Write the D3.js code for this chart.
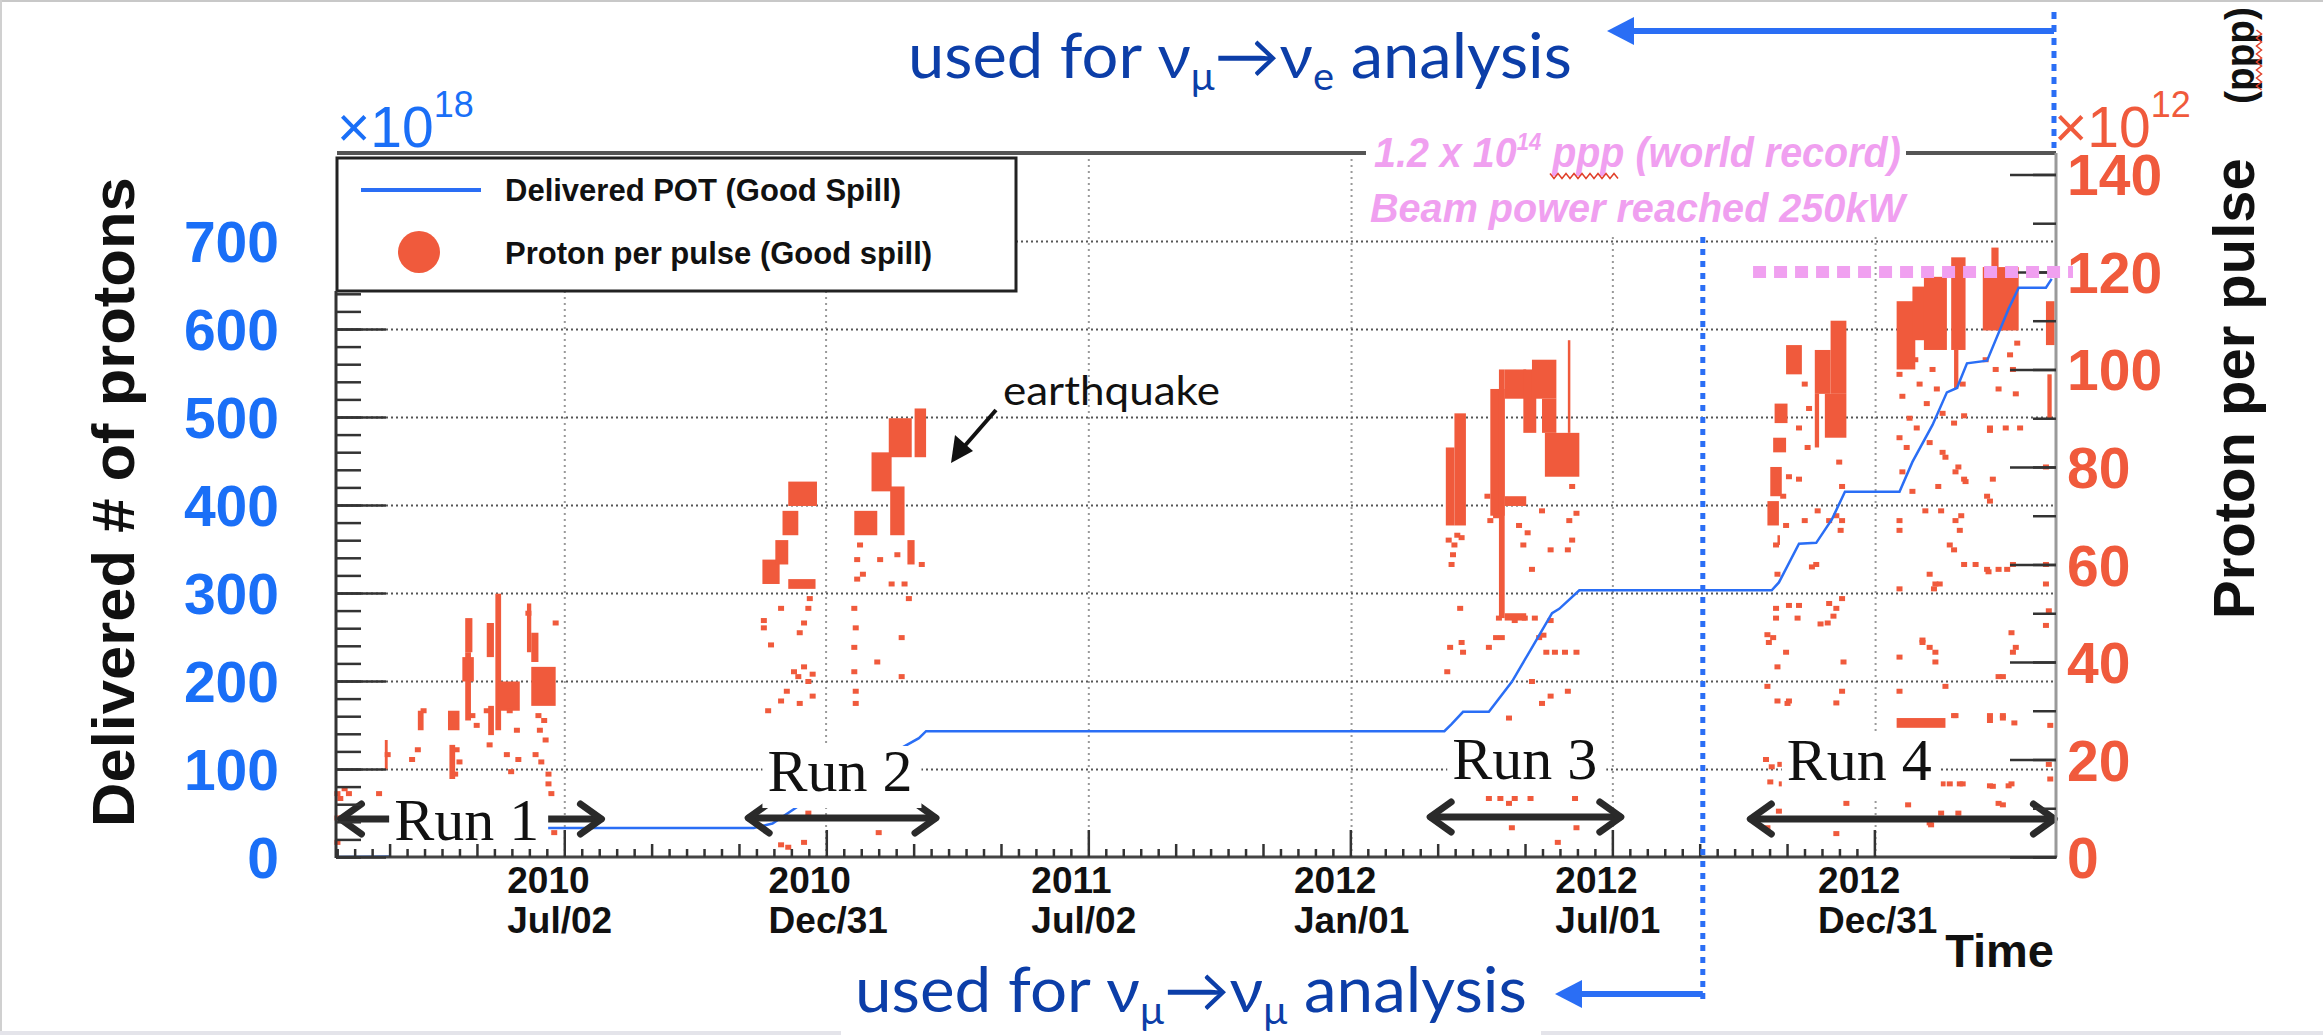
<!DOCTYPE html>
<html>
<head>
<meta charset="utf-8">
<script src="https://cdn.jsdelivr.net/npm/d3@7"></script>
<style>
  body { margin: 0; background: #fff; }
  svg { display: block; }
</style>
</head>
<body>
<script>
// time axis: labelled major ticks
var xTickDates = ['2010-07-02', '2010-12-31', '2011-07-02', '2012-01-01', '2012-07-01', '2012-12-31'];
var xTickYears = ['2010', '2010', '2011', '2012', '2012', '2012'];
var xTickDays = ['Jul/02', 'Dec/31', 'Jul/02', 'Jan/01', 'Jul/01', 'Dec/31'];

// left axis (x10^18 POT) and right axis (x10^12 ppp)
var potTicks = [0, 100, 200, 300, 400, 500, 600, 700];
var pppTicks = [0, 20, 40, 60, 80, 100, 120, 140];

// accumulated delivered POT (x10^18)
var potDates = ['2010-01-24', '2010-04-17', '2010-04-22', '2010-06-18', '2010-06-21', '2010-11-11', '2010-11-24',
    '2010-12-15', '2011-03-06', '2011-03-11', '2012-03-06', '2012-03-11', '2012-03-19', '2012-04-06',
    '2012-04-22', '2012-05-06', '2012-05-20', '2012-05-25', '2012-06-08', '2012-10-20', '2012-10-25',
    '2012-11-08', '2012-11-20', '2012-12-01', '2012-12-10', '2013-01-17', '2013-01-26', '2013-02-09',
    '2013-02-19', '2013-02-26', '2013-03-05', '2013-03-19', '2013-04-03', '2013-04-10', '2013-04-29',
    '2013-05-03'];
var potValues = [0, 1, 14, 31, 33, 33, 38, 61, 135, 143, 143, 151, 165, 165, 199, 238, 277, 282, 303, 303,
    312, 356, 357, 384, 415, 415, 449, 491, 528, 533, 561, 564, 623, 647, 647, 657];

// dense spill bands: [from, to, ppp low, ppp high]
var pppBands = [
    ['2010-02-27', '2010-03-01', 18, 24], ['2010-03-22', '2010-03-26', 26, 30], ['2010-04-12', '2010-04-20', 26, 30],
    ['2010-04-13', '2010-04-17', 16, 23], ['2010-04-24', '2010-04-29', 42, 49], ['2010-04-22', '2010-04-30', 36, 41],
    ['2010-04-24', '2010-04-28', 28, 42], ['2010-05-09', '2010-05-14', 41, 48], ['2010-05-15', '2010-05-19', 26, 54],
    ['2010-05-17', '2010-06-01', 30, 36], ['2010-05-10', '2010-05-14', 25, 31], ['2010-06-06', '2010-06-09', 42, 52],
    ['2010-06-09', '2010-06-14', 40, 46], ['2010-06-09', '2010-06-26', 31, 39],
    ['2010-11-17', '2010-11-29', 56, 61], ['2010-11-26', '2010-12-05', 60, 65], ['2010-12-01', '2010-12-12', 66, 71],
    ['2010-12-05', '2010-12-25', 72, 77], ['2010-12-05', '2010-12-24', 55, 57], ['2011-01-20', '2011-02-05', 66, 71],
    ['2011-02-01', '2011-02-15', 75, 83], ['2011-02-13', '2011-03-01', 82, 90], ['2011-03-03', '2011-03-11', 82, 92],
    ['2011-02-14', '2011-02-24', 66, 76], ['2011-02-26', '2011-03-03', 60, 65],
    ['2012-03-07', '2012-03-13', 68, 84], ['2012-03-13', '2012-03-21', 68, 91], ['2012-04-07', '2012-04-17', 70, 96],
    ['2012-04-13', '2012-04-17', 49, 100], ['2012-04-17', '2012-05-02', 94, 100], ['2012-04-30', '2012-05-09', 87, 100],
    ['2012-05-06', '2012-05-23', 94, 102], ['2012-05-13', '2012-05-23', 87, 94], ['2012-05-15', '2012-06-08', 78, 87],
    ['2012-05-31', '2012-06-01', 87, 106], ['2012-04-17', '2012-05-02', 72, 74], ['2012-04-17', '2012-05-02', 48.5, 50],
    ['2012-10-17', '2012-10-25', 68, 73], ['2012-10-19', '2012-10-27', 74, 80], ['2012-10-21', '2012-10-30', 83, 86],
    ['2012-10-22', '2012-10-31', 89, 93], ['2012-10-24', '2012-10-25', 64, 66], ['2012-10-30', '2012-11-10', 99, 105],
    ['2012-11-19', '2012-11-30', 95, 104], ['2012-11-30', '2012-12-11', 95, 110], ['2012-11-19', '2012-11-22', 84, 95],
    ['2012-11-26', '2012-12-11', 86, 95],
    ['2013-01-15', '2013-01-28', 100, 114], ['2013-01-26', '2013-02-08', 106, 117], ['2013-02-03', '2013-02-19', 104, 119],
    ['2013-02-22', '2013-03-04', 104, 123], ['2013-02-24', '2013-02-27', 96, 104], ['2013-03-16', '2013-04-10', 108, 121],
    ['2013-03-22', '2013-03-27', 121, 125], ['2013-04-29', '2013-05-05', 105, 114], ['2013-04-30', '2013-05-03', 90, 99],
    ['2013-01-15', '2013-02-18', 26.5, 28.5]
];

// single spills: [date, ppp]
var pppPoints = [
    ['2010-01-25', 13], ['2010-01-27', 12], ['2010-01-30', 14], ['2010-02-02', 13], ['2010-01-25', 8], ['2010-01-25', 3],
    ['2010-02-23', 13], ['2010-03-01', 21], ['2010-03-18', 20], ['2010-03-22', 22], ['2010-03-26', 30], ['2010-04-17', 17],
    ['2010-04-18', 22], ['2010-04-20', 19.5], ['2010-04-29', 29], ['2010-05-02', 27], ['2010-05-09', 30], ['2010-05-11', 23],
    ['2010-05-23', 21], ['2010-05-25', 30], ['2010-05-26', 17.5], ['2010-05-30', 26], ['2010-05-31', 20], ['2010-06-07', 50],
    ['2010-06-12', 21], ['2010-06-14', 29], ['2010-06-15', 26], ['2010-06-16', 19.5], ['2010-06-18', 28], ['2010-06-19', 24],
    ['2010-06-21', 17], ['2010-06-21', 15], ['2010-06-23', 13], ['2010-06-26', 48], ['2010-06-25', 5],
    ['2010-11-18', 47], ['2010-11-18', 48.5], ['2010-11-30', 51], ['2010-12-19', 51], ['2010-12-16', 48], ['2010-11-23', 43.5],
    ['2010-12-13', 46], ['2010-12-09', 38], ['2010-12-12', 37], ['2010-12-16', 39], ['2010-12-19', 36], ['2010-12-22', 37.5],
    ['2010-11-30', 32], ['2010-12-13', 31.5], ['2010-11-21', 30], ['2010-12-22', 33], ['2010-12-04', 34], ['2010-12-20', 53],
    ['2011-01-20', 51], ['2011-01-21', 47], ['2011-01-20', 43], ['2011-02-22', 45], ['2011-02-05', 40], ['2011-01-20', 38],
    ['2011-01-21', 34], ['2011-01-21', 31.5], ['2011-02-22', 37], ['2011-02-27', 53], ['2011-02-24', 56], ['2011-03-08', 60],
    ['2011-01-22', 57], ['2011-01-22', 61], ['2011-01-26', 58], ['2011-02-07', 61], ['2011-02-15', 56], ['2011-02-19', 62],
    ['2011-01-24', 64], ['2010-11-30', 2.5], ['2010-12-16', 3], ['2011-02-06', 5], ['2010-12-19', 9], ['2010-12-05', 2],
    ['2012-03-11', 60], ['2012-03-17', 51], ['2012-03-10', 43], ['2012-03-19', 42], ['2012-03-08', 38], ['2012-03-18', 44],
    ['2012-03-09', 65], ['2012-03-15', 66], ['2012-03-18', 65.5], ['2012-03-13', 64], ['2012-03-12', 62],
    ['2012-04-07', 69], ['2012-04-11', 70], ['2012-04-27', 68], ['2012-05-03', 66.5], ['2012-05-19', 63], ['2012-05-31', 63],
    ['2012-04-30', 64], ['2012-05-06', 59], ['2012-05-13', 71], ['2012-06-03', 76], ['2012-06-01', 69], ['2012-06-06', 70.5],
    ['2012-06-03', 65], ['2012-04-13', 49], ['2012-04-24', 48.5], ['2012-05-01', 49], ['2012-05-08', 49], ['2012-05-19', 48.5],
    ['2012-04-11', 45], ['2012-04-15', 45], ['2012-04-06', 43], ['2012-05-11', 45], ['2012-05-14', 45.5], ['2012-05-16', 42],
    ['2012-05-22', 42], ['2012-05-29', 42], ['2012-06-06', 42], ['2012-05-06', 36], ['2012-05-19', 33], ['2012-05-31', 34],
    ['2012-05-13', 31.5], ['2012-04-20', 28.5], ['2012-04-05', 74], ['2012-04-06', 12], ['2012-04-14', 12], ['2012-04-24', 12],
    ['2012-05-05', 12], ['2012-04-20', 11], ['2012-06-05', 12], ['2012-05-24', 3], ['2012-04-22', 6], ['2012-06-06', 6],
    ['2012-11-01', 78], ['2012-11-08', 77.5], ['2012-12-06', 81], ['2012-12-08', 76], ['2012-11-20', 60], ['2012-11-29', 69],
    ['2012-12-04', 70], ['2012-10-24', 58], ['2012-10-23', 49], ['2012-10-23', 51], ['2012-11-08', 51.6], ['2012-11-01', 51.6],
    ['2012-11-28', 48], ['2012-12-04', 51], ['2012-12-08', 53], ['2012-10-17', 45.6], ['2012-10-18', 44], ['2012-10-24', 39],
    ['2012-10-30', 42], ['2012-10-24', 32], ['2012-11-01', 32], ['2012-12-09', 40], ['2012-12-04', 31.6], ['2012-10-17', 35],
    ['2012-10-28', 74], ['2012-10-23', 64], ['2012-10-30', 68], ['2012-11-12', 69], ['2012-11-21', 71], ['2012-12-07', 67],
    ['2012-11-17', 59.5], ['2012-12-08', 69], ['2012-11-07', 49], ['2012-11-29', 52], ['2012-12-02', 49.4], ['2012-11-23', 47.8],
    ['2012-10-21', 45], ['2012-10-31', 31.5], ['2012-12-08', 34], ['2012-11-12', 97], ['2012-11-15', 92], ['2012-11-08', 88],
    ['2012-11-14', 84], ['2012-10-16', 20], ['2012-10-20', 18.5], ['2012-10-26', 19], ['2012-10-19', 15.4], ['2012-10-27', 15],
    ['2012-10-25', 9.4], ['2012-12-04', 4.8], ['2012-12-11', 11], ['2012-10-17', 6],
    ['2013-01-17', 99], ['2013-01-19', 94.5], ['2013-01-24', 90], ['2013-01-29', 88], ['2013-01-17', 86], ['2013-02-07', 85],
    ['2013-01-22', 84], ['2013-01-19', 79], ['2013-02-18', 82], ['2013-02-25', 79], ['2013-03-03', 77.5], ['2013-01-26', 75],
    ['2013-02-04', 71], ['2013-02-13', 76], ['2013-02-25', 69], ['2013-02-28', 67], ['2013-01-17', 69], ['2013-01-17', 67],
    ['2013-02-21', 64], ['2013-02-10', 55], ['2013-02-14', 56], ['2013-01-17', 55], ['2013-02-07', 58], ['2013-03-23', 77.5],
    ['2013-03-19', 74], ['2013-03-21', 88], ['2013-03-11', 60], ['2013-03-19', 59], ['2013-03-27', 59], ['2013-04-06', 60],
    ['2013-02-02', 44], ['2013-02-11', 40], ['2013-01-17', 41], ['2013-02-18', 35], ['2013-01-17', 34], ['2013-04-06', 42],
    ['2013-03-30', 37], ['2013-03-21', 29], ['2013-03-30', 29], ['2013-02-25', 29], ['2013-03-02', 15], ['2013-02-21', 15],
    ['2013-04-03', 14.6], ['2013-03-23', 14.5], ['2013-02-07', 7], ['2013-01-23', 10.7], ['2013-03-30', 10.7],
    ['2013-03-25', 100], ['2013-04-06', 100], ['2013-04-09', 105.4], ['2013-03-27', 96], ['2013-04-01', 88], ['2013-04-11', 88],
    ['2013-03-21', 87.5], ['2013-03-03', 90.5], ['2013-02-24', 89], ['2013-03-04', 77], ['2013-02-27', 80], ['2013-02-16', 83],
    ['2013-03-01', 70], ['2013-02-15', 71], ['2013-03-21', 73], ['2013-02-24', 63], ['2013-03-03', 60], ['2013-03-20', 58.5],
    ['2013-04-02', 59], ['2013-02-11', 56], ['2013-02-02', 44.5], ['2013-02-07', 43], ['2013-02-11', 42], ['2013-03-27', 37],
    ['2013-04-05', 46], ['2013-04-08', 43], ['2013-02-24', 29], ['2013-03-21', 28], ['2013-03-30', 28.5], ['2013-04-07', 27.5],
    ['2013-02-16', 15], ['2013-02-28', 15], ['2013-03-21', 14.6], ['2013-04-05', 15], ['2013-02-15', 9], ['2013-02-27', 9],
    ['2013-03-27', 11], ['2013-02-08', 6.6], ['2013-05-02', 27], ['2013-05-01', 50.5], ['2013-04-29', 56], ['2013-04-29', 60],
    ['2013-04-29', 80], ['2013-04-29', 47.5], ['2013-05-01', 19], ['2013-05-02', 16], ['2013-01-31', 97], ['2013-02-05', 93],
    ['2013-02-12', 96], ['2013-02-16', 91], ['2013-01-21', 101], ['2013-02-09', 100], ['2013-03-02', 97], ['2013-03-18', 102],
    ['2013-04-04', 103], ['2013-04-08', 95], ['2013-01-28', 102]
];

// run periods
var runNames = ['Run 1', 'Run 2', 'Run 3', 'Run 4'];
var runFrom = ['2010-01-25', '2010-11-05', '2012-02-23', '2012-10-03'];
var runTo = ['2010-07-30', '2011-03-20', '2012-07-09', '2013-05-07'];
var runLabelDates = ['2010-04-25', '2011-01-10', '2012-05-01', '2012-12-20'];

var recordPpp = 120;
var recordFrom = '2012-10-07';
var cutDate = '2012-09-02';

(function () {
    var width = 2323;
    var height = 1035;
    var red = '#f05a3c';
    var blue = '#2a6ef5';
    var navy = '#0c3ea8';
    var pink = '#f0a0f0';
    var sans = 'Liberation Sans, Arial, Helvetica, sans-serif';
    var serif = 'Liberation Serif, Times New Roman, serif';
    var gill = 'Lato, Open Sans, sans-serif';

    var parse = d3.utcParse('%Y-%m-%d');

    var svg = d3.select('body').append('svg')
        .attr('width', width)
        .attr('height', height)
        .style('background', '#fff');

    var x = d3.scaleUtc()
        .domain([parse('2010-01-24'), parse('2013-05-06')])
        .range([336, 2056]);
    var yL = d3.scaleLinear().domain([0, 800]).range([857, 153]);
    var yR = d3.scaleLinear().domain([0, 144.4]).range([857, 153]);

    var x0 = x.range()[0];
    var x1 = x.range()[1];
    var yBottom = yL.range()[0];
    var yTop = yL.range()[1];

    // squeeze a text horizontally to the width it has on the slide
    function fit(t, tx, ty, len, rot) {
        var w = t.node().getComputedTextLength();
        t.attr('transform', 'translate(' + tx + ',' + ty + ')' +
            (rot ? ' rotate(' + rot + ')' : '') + ' scale(' + (len / w) + ',1)');
        return t;
    }

    // slide edge remnants
    svg.append('rect').attr('x', 0).attr('y', 0).attr('width', width).attr('height', 2).attr('fill', '#c8c8c8');
    svg.append('rect').attr('x', 0).attr('y', 0).attr('width', 2).attr('height', height).attr('fill', '#d0d0d0');
    svg.append('rect').attr('x', 0).attr('y', 1031).attr('width', 841).attr('height', 4).attr('fill', '#e4e4ea');
    svg.append('rect').attr('x', 1541).attr('y', 1031).attr('width', 782).attr('height', 4).attr('fill', '#e4e4ea');

    // grid
    svg.append('g')
        .attr('transform', 'translate(0,' + yTop + ')')
        .call(d3.axisBottom(x).tickValues(xTickDates.map(parse)).tickSize(yBottom - yTop).tickFormat(''))
        .call(function (g) { g.select('.domain').remove(); })
        .selectAll('line')
        .attr('stroke', '#999')
        .attr('stroke-width', 2)
        .attr('stroke-dasharray', '2 4');

    svg.append('g')
        .attr('transform', 'translate(' + x0 + ',0)')
        .call(d3.axisLeft(yL).tickValues(potTicks.slice(1)).tickSize(-(x1 - x0)).tickFormat(''))
        .call(function (g) { g.select('.domain').remove(); })
        .selectAll('line')
        .attr('stroke', '#555')
        .attr('stroke-width', 2)
        .attr('stroke-dasharray', '2 3');

    // proton per pulse, dense bands
    svg.append('g')
        .selectAll('rect')
        .data(pppBands)
        .join('rect')
        .attr('x', function (d) { return x(parse(d[0])); })
        .attr('y', function (d) { return yR(d[3]); })
        .attr('width', function (d) { return Math.max(2.5, x(parse(d[1])) - x(parse(d[0]))); })
        .attr('height', function (d) { return yR(d[2]) - yR(d[3]); })
        .attr('fill', red);

    // proton per pulse, single spills
    svg.append('g')
        .selectAll('rect')
        .data(pppPoints)
        .join('rect')
        .attr('x', function (d) { return x(parse(d[0])) - 3; })
        .attr('y', function (d) { return yR(d[1]) - 2.5; })
        .attr('width', 6)
        .attr('height', 5)
        .attr('fill', red);

    // delivered POT
    var line = d3.line()
        .x(function (d) { return x(parse(d[0])); })
        .y(function (d) { return yL(d[1]); });

    svg.append('path')
        .datum(d3.zip(potDates, potValues))
        .attr('d', line)
        .attr('fill', 'none')
        .attr('stroke', blue)
        .attr('stroke-width', 2.5);

    // legend
    var legend = svg.append('g');
    legend.append('rect')
        .attr('x', 337).attr('y', 158).attr('width', 679).attr('height', 133)
        .attr('fill', '#fff').attr('stroke', '#222').attr('stroke-width', 3);
    legend.append('line')
        .attr('x1', 361).attr('x2', 481).attr('y1', 190).attr('y2', 190)
        .attr('stroke', blue).attr('stroke-width', 4);
    legend.append('circle')
        .attr('cx', 419).attr('cy', 252).attr('r', 21).attr('fill', red);
    legend.selectAll('text')
        .data(['Delivered POT (Good Spill)', 'Proton per pulse (Good spill)'])
        .join('text')
        .attr('x', 505)
        .attr('y', function (d, i) { return i ? 264 : 201; })
        .attr('font-family', sans)
        .attr('font-weight', 'bold')
        .attr('font-size', 31)
        .attr('fill', '#111')
        .text(function (d) { return d; });

    // run arrows and labels
    function chevronArrow(xa, xb, y) {
        var g = svg.append('g')
            .attr('stroke', '#2a2a2a')
            .attr('stroke-width', 7)
            .attr('fill', 'none')
            .attr('stroke-linecap', 'round')
            .attr('stroke-linejoin', 'round');
        g.append('line').attr('x1', xa + 4).attr('x2', xb - 4).attr('y1', y).attr('y2', y);
        g.append('path').attr('d', 'M' + (xa + 24) + ',' + (y - 15) + 'L' + (xa + 3) + ',' + y + 'L' + (xa + 24) + ',' + (y + 15));
        g.append('path').attr('d', 'M' + (xb - 24) + ',' + (y - 15) + 'L' + (xb - 3) + ',' + y + 'L' + (xb - 24) + ',' + (y + 15));
    }

    var runArrowY = [819, 818, 817, 819];
    var runLabelY = [840, 791, 779, 780];

    runNames.forEach(function (name, i) {
        chevronArrow(x(parse(runFrom[i])), x(parse(runTo[i])), runArrowY[i]);
        var label = svg.append('g');
        var box = label.append('rect').attr('fill', '#fff');
        var t = label.append('text')
            .attr('x', x(parse(runLabelDates[i])))
            .attr('y', runLabelY[i])
            .attr('text-anchor', 'middle')
            .attr('font-family', serif)
            .attr('font-size', 60)
            .attr('fill', '#111')
            .text(name);
        var b = t.node().getBBox();
        box.attr('x', b.x - 5).attr('y', b.y + 8).attr('width', b.width + 14).attr('height', b.height - 4);
    });

    // frame lines
    svg.append('line').attr('x1', x0 + 1).attr('x2', x1).attr('y1', yTop).attr('y2', yTop)
        .attr('stroke', '#555').attr('stroke-width', 4);
    svg.append('line').attr('x1', x1).attr('x2', x1).attr('y1', yTop).attr('y2', yBottom)
        .attr('stroke', '#9a9a9a').attr('stroke-width', 3);
    svg.append('line').attr('x1', x0).attr('x2', x0).attr('y1', 291).attr('y2', yBottom + 1)
        .attr('stroke', '#333').attr('stroke-width', 3);
    svg.append('line').attr('x1', x0).attr('x2', x1 + 1).attr('y1', yBottom).attr('y2', yBottom)
        .attr('stroke', '#444').attr('stroke-width', 3);

    // axis ticks
    function tickGroup(axis, tx, ty, color) {
        svg.append('g')
            .attr('transform', 'translate(' + tx + ',' + ty + ')')
            .call(axis)
            .call(function (g) { g.select('.domain').remove(); })
            .selectAll('line')
            .attr('stroke', color || '#333')
            .attr('stroke-width', 2.5);
    }

    tickGroup(d3.axisRight(yL).tickValues(d3.range(0, 641, 20)).tickSize(25).tickFormat(''), x0, 0);
    tickGroup(d3.axisRight(yL).tickValues(potTicks.slice(0, 7)).tickSize(50).tickFormat(''), x0, 0);
    tickGroup(d3.axisLeft(yR).tickValues(d3.range(0, 141, 10)).tickSize(23).tickFormat(''), x1, 0);
    tickGroup(d3.axisLeft(yR).tickValues(pppTicks).tickSize(46).tickFormat(''), x1, 0);

    // time ticks: 15 subdivisions per half year
    var half = 182.5 * 864e5;
    var t0 = parse(xTickDates[0]).getTime();
    var sub = d3.range(-15, 76).map(function (i) {
        return { t: new Date(t0 + i * half / 15), k: i % 15 === 0 ? 2 : (i % 5 === 0 ? 1 : 0) };
    }).filter(function (d) {
        return d.t >= x.domain()[0] && d.t <= x.domain()[1];
    });
    [8, 13, 27].forEach(function (len, k) {
        tickGroup(d3.axisTop(x)
            .tickValues(sub.filter(function (d) { return d.k === k; }).map(function (d) { return d.t; }))
            .tickSize(len).tickFormat(''), 0, yBottom);
    });

    // tick labels
    var leftLabels = svg.append('g')
        .attr('transform', 'translate(' + x0 + ',0)')
        .call(d3.axisLeft(yL).tickValues(potTicks).tickSize(0).tickPadding(57));
    leftLabels.select('.domain').remove();
    leftLabels.selectAll('text')
        .attr('font-family', sans).attr('font-weight', 'bold').attr('font-size', 57)
        .attr('fill', '#1a6ff7').attr('dy', '0.36em');

    var rightLabels = svg.append('g')
        .attr('transform', 'translate(' + x1 + ',0)')
        .call(d3.axisRight(yR).tickValues(pppTicks).tickSize(0).tickPadding(11));
    rightLabels.select('.domain').remove();
    rightLabels.selectAll('text')
        .attr('font-family', sans).attr('font-weight', 'bold').attr('font-size', 57)
        .attr('fill', red).attr('dy', '0.36em');

    var timeLabels = svg.append('g')
        .attr('font-family', sans).attr('font-weight', 'bold').attr('font-size', 37).attr('fill', '#111');
    xTickDates.forEach(function (d, i) {
        var tx = x(parse(d)) - 57;
        timeLabels.append('text').attr('x', tx).attr('y', 893).text(xTickYears[i]);
        timeLabels.append('text').attr('x', tx).attr('y', 933).text(xTickDays[i]);
    });
    svg.append('text')
        .attr('x', x1 - 2).attr('y', 967).attr('text-anchor', 'end')
        .attr('font-family', sans).attr('font-weight', 'bold').attr('font-size', 47)
        .attr('fill', '#111').text('Time');

    // exponents
    function exponent(tx, sup, color) {
        var t = svg.append('text')
            .attr('x', tx).attr('y', 147)
            .attr('font-family', sans).attr('font-size', 57).attr('fill', color);
        t.append('tspan').text('×10');
        t.append('tspan').attr('font-size', 36).attr('dy', -30).text(sup);
    }
    exponent(x0 + 1, '18', '#1a6ff7');
    exponent(x1 - 2, '12', red);

    // axis titles
    fit(svg.append('text')
        .attr('font-family', sans).attr('font-weight', 'bold').attr('font-size', 60)
        .attr('fill', '#111').text('Delivered # of protons'), 134, 827, 650, -90);
    svg.append('text')
        .attr('transform', 'translate(2254,619) rotate(-90)')
        .attr('font-family', sans).attr('font-weight', 'bold').attr('font-size', 58)
        .attr('fill', '#111').text('Proton per pulse');
    fit(svg.append('text')
        .attr('font-family', sans).attr('font-weight', 'bold').attr('font-size', 40)
        .attr('fill', '#111').text('(ppp)'), 2254, 104, 97, -90);

    // spell-check squiggles copied from the slide
    function squiggle(xa, xb, y, vertical) {
        var pts = d3.range(0, Math.floor((xb - xa) / 4) + 1).map(function (i) {
            var u = xa + i * 4;
            var v = y + (i % 2 ? 2.5 : -2.5);
            return vertical ? [v, u] : [u, v];
        });
        svg.append('path').attr('d', d3.line()(pts))
            .attr('fill', 'none').attr('stroke', '#e0402a').attr('stroke-width', 1.5);
    }
    squiggle(30, 90, 2259, true);

    // world record annotation
    svg.append('rect').attr('x', 1366).attr('y', 128).attr('width', 540).attr('height', 108).attr('fill', '#fff');
    var rec = svg.append('text')
        .attr('font-family', sans).attr('font-weight', 'bold').attr('font-style', 'italic')
        .attr('font-size', 43).attr('fill', pink);
    rec.append('tspan').text('1.2 x 10');
    rec.append('tspan').attr('font-size', 24).attr('dy', -17).text('14');
    rec.append('tspan').attr('dy', 17).text(' ppp (world record)');
    fit(rec, 1374, 167, 527);
    fit(svg.append('text')
        .attr('font-family', sans).attr('font-weight', 'bold').attr('font-style', 'italic')
        .attr('font-size', 41).attr('fill', pink)
        .text('Beam power reached 250kW'), 1370, 222, 535);
    squiggle(1550, 1621, 176, false);

    svg.append('line')
        .attr('x1', x(parse(recordFrom))).attr('x2', x1 + 17)
        .attr('y1', yR(recordPpp)).attr('y2', yR(recordPpp))
        .attr('stroke', pink).attr('stroke-width', 12).attr('stroke-dasharray', '13 8');

    // earthquake
    fit(svg.append('text')
        .attr('font-family', gill).attr('font-size', 40).attr('fill', '#111')
        .text('earthquake'), 1003, 405, 217);
    svg.append('line').attr('x1', 996).attr('y1', 410).attr('x2', 962).attr('y2', 449)
        .attr('stroke', '#111').attr('stroke-width', 4);
    svg.append('path').attr('d', 'M951,463L955,435L973,451Z').attr('fill', '#111');

    // analysis cut markers
    var xc = x(parse(cutDate));
    svg.append('line').attr('x1', xc).attr('x2', xc).attr('y1', 237).attr('y2', 1003)
        .attr('stroke', blue).attr('stroke-width', 5).attr('stroke-dasharray', '6 6');
    svg.append('line').attr('x1', xc).attr('x2', 1575).attr('y1', 994).attr('y2', 994)
        .attr('stroke', blue).attr('stroke-width', 6);
    svg.append('path').attr('d', 'M1555,994L1582,980L1582,1008Z').attr('fill', blue);

    svg.append('line').attr('x1', x1 - 2).attr('x2', x1 - 2).attr('y1', 12).attr('y2', 148)
        .attr('stroke', blue).attr('stroke-width', 5).attr('stroke-dasharray', '7 6');
    svg.append('line').attr('x1', x1 - 2).attr('x2', 1630).attr('y1', 31).attr('y2', 31)
        .attr('stroke', blue).attr('stroke-width', 6);
    svg.append('path').attr('d', 'M1607,31L1634,17L1634,45Z').attr('fill', blue);

    function analysisText(tx, ty, len, sub2) {
        var t = svg.append('text')
            .attr('font-family', gill).attr('font-size', 62).attr('fill', navy);
        t.append('tspan').text('used for ν');
        t.append('tspan').attr('font-size', 38).attr('dy', 12).text('μ');
        t.append('tspan').attr('dy', -12).text('→ν');
        t.append('tspan').attr('font-size', 38).attr('dy', 12).text(sub2);
        t.append('tspan').attr('dy', -12).text(' analysis');
        fit(t, tx, ty, len);
    }
    analysisText(908, 78, 664, 'e');
    analysisText(855, 1012, 672, 'μ');
}());
</script>
</body>
</html>
